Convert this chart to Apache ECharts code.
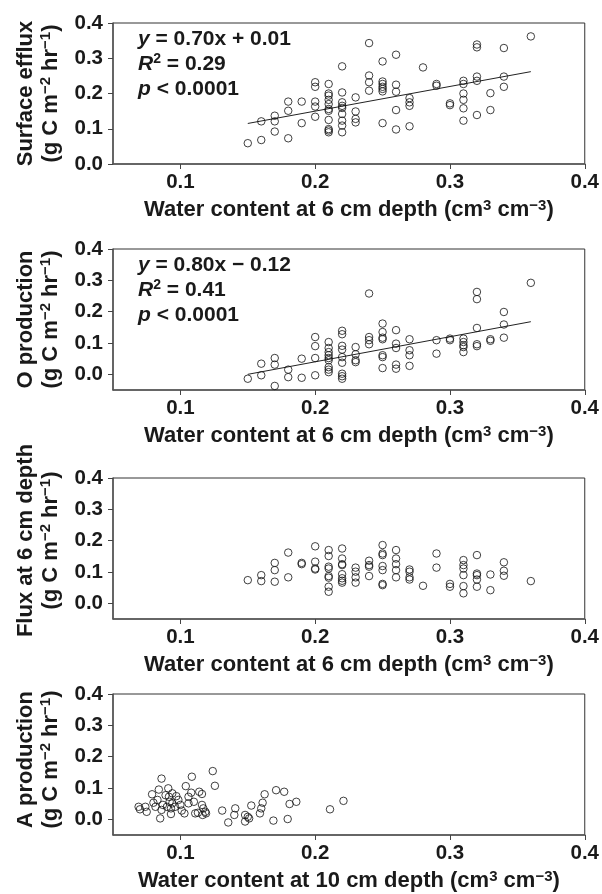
<!DOCTYPE html>
<html><head><meta charset="utf-8">
<script src="https://cdn.jsdelivr.net/npm/echarts@6/dist/echarts.min.js"></script>
<style>html,body{margin:0;padding:0;background:#fff}#c{width:602px;height:894px}</style>
</head><body><div id="c"></div>
<script>
// ---------- DATA ----------
const xTickValues = [0.1, 0.2, 0.3, 0.4];
const yTickValues = [0.0, 0.1, 0.2, 0.3, 0.4];

// Panel 1: surface efflux vs water content at 6 cm
const surfaceEfflux = [
 [0.15,0.059],
 [0.16,0.121],[0.16,0.068],
 [0.17,0.137],[0.17,0.121],[0.17,0.092],
 [0.18,0.177],[0.18,0.151],[0.18,0.073],
 [0.19,0.177],[0.19,0.116],
 [0.20,0.232],[0.20,0.219],[0.20,0.177],[0.20,0.163],[0.20,0.134],
 [0.21,0.227],[0.21,0.200],[0.21,0.194],[0.21,0.182],[0.21,0.170],[0.21,0.156],[0.21,0.151],[0.21,0.125],[0.21,0.099],[0.21,0.095],[0.21,0.090],
 [0.22,0.277],[0.22,0.203],[0.22,0.175],[0.22,0.165],[0.22,0.159],[0.22,0.142],[0.22,0.123],[0.22,0.109],[0.22,0.090],
 [0.23,0.189],[0.23,0.149],[0.23,0.128],[0.23,0.118],
 [0.24,0.343],[0.24,0.251],[0.24,0.232],[0.24,0.208],
 [0.25,0.291],[0.25,0.234],[0.25,0.227],[0.25,0.219],[0.25,0.213],[0.25,0.206],[0.25,0.116],
 [0.26,0.310],[0.26,0.225],[0.26,0.205],[0.26,0.153],[0.26,0.098],
 [0.27,0.187],[0.27,0.175],[0.27,0.165],[0.27,0.107],
 [0.28,0.274],
 [0.29,0.227],[0.29,0.222],
 [0.30,0.172],[0.30,0.167],
 [0.31,0.236],[0.31,0.227],[0.31,0.200],[0.31,0.182],[0.31,0.158],[0.31,0.123],
 [0.32,0.339],[0.32,0.331],[0.32,0.248],[0.32,0.236],[0.32,0.139],
 [0.33,0.201],[0.33,0.153],
 [0.34,0.329],[0.34,0.248],[0.34,0.219],
 [0.36,0.362]
];
const surfaceFitLine = [[0.15,0.115],[0.36,0.262]];

// Panel 2: O production vs water content at 6 cm
const oProduction = [
 [0.15,-0.014],
 [0.16,0.034],[0.16,-0.003],
 [0.17,0.052],[0.17,0.031],[0.17,-0.037],
 [0.18,0.015],[0.18,-0.009],
 [0.19,0.050],[0.19,-0.011],
 [0.20,0.119],[0.20,0.090],[0.20,0.052],[0.20,-0.003],
 [0.21,0.103],[0.21,0.084],[0.21,0.071],[0.21,0.061],[0.21,0.052],[0.21,0.045],[0.21,0.023],[0.21,0.015],[0.21,0.007],
 [0.22,0.139],[0.22,0.128],[0.22,0.091],[0.22,0.079],[0.22,0.055],[0.22,0.037],[0.22,0.002],[0.22,-0.006],[0.22,-0.014],
 [0.23,0.087],[0.23,0.064],[0.23,0.045],[0.23,0.039],
 [0.24,0.258],[0.24,0.119],[0.24,0.109],[0.24,0.096],
 [0.25,0.162],[0.25,0.135],[0.25,0.117],[0.25,0.112],[0.25,0.061],[0.25,0.055],[0.25,0.020],
 [0.26,0.141],[0.26,0.098],[0.26,0.084],[0.26,0.031],[0.26,0.018],
 [0.27,0.112],[0.27,0.077],[0.27,0.061],[0.27,0.027],
 [0.29,0.109],[0.29,0.066],
 [0.30,0.114],[0.30,0.109],
 [0.31,0.114],[0.31,0.103],[0.31,0.093],[0.31,0.087],[0.31,0.071],
 [0.32,0.263],[0.32,0.240],[0.32,0.148],[0.32,0.096],[0.32,0.090],
 [0.33,0.112],[0.33,0.107],
 [0.34,0.199],[0.34,0.159],[0.34,0.117],
 [0.36,0.292]
];
const oProductionFitLine = [[0.15,0.000],[0.36,0.168]];

// Panel 3: flux at 6 cm depth vs water content at 6 cm
const flux6cm = [
 [0.15,0.074],
 [0.16,0.090],[0.16,0.071],
 [0.17,0.129],[0.17,0.106],[0.17,0.069],
 [0.18,0.162],[0.18,0.083],
 [0.19,0.129],[0.19,0.125],
 [0.20,0.182],[0.20,0.133],[0.20,0.111],[0.20,0.108],
 [0.21,0.170],[0.21,0.151],[0.21,0.117],[0.21,0.111],[0.21,0.087],[0.21,0.082],[0.21,0.053],[0.21,0.037],
 [0.22,0.175],[0.22,0.143],[0.22,0.125],[0.22,0.122],[0.22,0.093],[0.22,0.080],[0.22,0.072],[0.22,0.066],
 [0.23,0.114],[0.23,0.101],[0.23,0.083],[0.23,0.066],
 [0.24,0.136],[0.24,0.122],[0.24,0.117],[0.24,0.087],
 [0.25,0.186],[0.25,0.159],[0.25,0.154],[0.25,0.119],[0.25,0.106],[0.25,0.062],[0.25,0.058],
 [0.26,0.170],[0.26,0.143],[0.26,0.125],[0.26,0.106],[0.26,0.083],
 [0.27,0.108],[0.27,0.101],[0.27,0.083],[0.27,0.076],
 [0.28,0.056],
 [0.29,0.159],[0.29,0.114],
 [0.30,0.062],[0.30,0.053],
 [0.31,0.138],[0.31,0.122],[0.31,0.111],[0.31,0.090],[0.31,0.055],[0.31,0.032],
 [0.32,0.154],[0.32,0.095],[0.32,0.090],[0.32,0.076],[0.32,0.053],
 [0.33,0.092],[0.33,0.042],
 [0.34,0.131],[0.34,0.104],[0.34,0.088],
 [0.36,0.071]
];

// Panel 4: A production vs water content at 10 cm
const aProduction = [
 [0.069,0.040],[0.070,0.032],[0.075,0.024],[0.074,0.040],[0.079,0.080],[0.080,0.053],
 [0.0815,0.040],[0.083,0.062],[0.084,0.095],[0.086,0.130],[0.085,0.003],[0.086,0.030],
 [0.087,0.046],[0.089,0.077],[0.090,0.040],[0.091,0.099],[0.0915,0.072],[0.092,0.056],
 [0.093,0.035],[0.093,0.017],[0.094,0.051],[0.094,0.083],[0.096,0.040],[0.097,0.074],
 [0.0985,0.062],[0.100,0.046],[0.101,0.028],[0.103,0.019],[0.104,0.106],[0.106,0.072],
 [0.106,0.051],[0.108,0.085],[0.1085,0.136],[0.110,0.056],[0.111,0.019],[0.113,0.021],
 [0.114,0.088],[0.116,0.081],[0.116,0.046],[0.1165,0.014],[0.117,0.035],[0.1185,0.024],
 [0.119,0.019],[0.124,0.154],[0.1256,0.107],[0.131,0.028],[0.1355,-0.010],[0.1407,0.035],
 [0.140,0.014],[0.148,0.014],[0.148,-0.007],[0.150,0.008],[0.151,0.003],[0.1526,0.044],
 [0.159,0.019],[0.160,0.035],[0.161,0.053],[0.1625,0.080],[0.171,0.093],[0.169,-0.004],
 [0.177,0.088],[0.1796,0.001],[0.181,0.049],[0.186,0.056],[0.211,0.032],[0.221,0.059]
];

const yAxisTitles = ['Surface efflux', 'O production', 'Flux at 6 cm depth', 'A production'];
const xAxisTitles = ['Water content at 6 cm depth', 'Water content at 6 cm depth', 'Water content at 6 cm depth', 'Water content at 10 cm depth'];
const equationLines = [
 ['0.70x + 0.01', '0.29', '0.0001'],
 ['0.80x \u2212 0.12', '0.41', '0.0001']
];

// ---------- CHART ----------
const FONT = '"Liberation Sans", Arial, Helvetica, sans-serif';
const TXT = '#1a1a1a';
function makeRich(base) {
  return {
    s: { fontSize: Math.round(base * 0.68), fontWeight: 'bold', fontFamily: FONT, color: TXT, lineHeight: Math.round(base * 0.8), verticalAlign: 'top' },
    i: { fontSize: base, fontWeight: 'bold', fontStyle: 'italic', fontFamily: FONT, color: TXT }
  };
}
const unitLine = '(g C m{s|\u22122} hr{s|\u22121})';

const tops = [23, 249, 478, 694];
const heights = [141, 141, 141, 142];
const yMins = [0, -0.05, -0.05, -0.05];
const yNameShift = [0, 0, 16, 10];
const panelData = [surfaceEfflux, oProduction, flux6cm, aProduction];
const fitLines = [surfaceFitLine, oProductionFitLine, null, null];

const grid = [], xAxis = [], yAxis = [], series = [], title = [];
for (let k = 0; k < 4; k++) {
  grid.push({ left: 113, right: 16, top: tops[k], height: heights[k], show: true,
    borderColor: '#333', borderWidth: 1, backgroundColor: 'transparent', containLabel: false });
  xAxis.push({ gridIndex: k, type: 'value', min: 0.05, max: 0.4,
    axisLine: { show: true, onZero: false, lineStyle: { color: '#555', width: 1.5 } },
    axisTick: { show: true, inside: false, length: 5, customValues: xTickValues, lineStyle: { color: '#444', width: 1 } },
    axisLabel: { customValues: xTickValues, margin: 8, formatter: v => v.toFixed(1),
      fontSize: 20.5, fontWeight: 'bold', fontFamily: FONT, color: TXT },
    splitLine: { show: false },
    name: xAxisTitles[k] + ' (cm{s|3} cm{s|\u22123})', nameLocation: 'middle', nameGap: 34,
    nameTextStyle: { fontSize: 22, fontWeight: 'bold', fontFamily: FONT, color: TXT, lineHeight: 24, rich: makeRich(22) }
  });
  yAxis.push({ gridIndex: k, type: 'value', min: yMins[k], max: 0.4,
    axisLine: { show: true, onZero: false, lineStyle: { color: '#555', width: 1.5 } },
    axisTick: { show: true, inside: false, length: 5, customValues: yTickValues, lineStyle: { color: '#444', width: 1 } },
    axisLabel: { customValues: yTickValues, margin: 10, formatter: v => v.toFixed(1),
      fontSize: 20.5, fontWeight: 'bold', fontFamily: FONT, color: TXT },
    splitLine: { show: false },
    name: yAxisTitles[k] + '\n' + unitLine, nameLocation: 'middle', nameGap: 50, nameRotate: 90,
    nameTextStyle: { fontSize: 22, fontWeight: 'bold', fontFamily: FONT, color: TXT, lineHeight: 25,
      padding: [0, 0, 0, yNameShift[k]], rich: makeRich(22) }
  });
  series.push({ type: 'scatter', xAxisIndex: k, yAxisIndex: k, data: panelData[k],
    symbol: 'circle', symbolSize: 7.5,
    itemStyle: { color: 'rgba(0,0,0,0)', borderColor: '#111', borderWidth: 1 } });
  if (fitLines[k]) {
    series.push({ type: 'line', xAxisIndex: k, yAxisIndex: k, data: fitLines[k], symbol: 'none',
      lineStyle: { color: '#222', width: 1 }, z: 1 });
  }
}
for (let k = 0; k < equationLines.length; k++) {
  const e = equationLines[k];
  title.push({ left: 138, top: tops[k] + 4, padding: 0,
    text: '{i|y} = ' + e[0] + '\n{i|R}{s|2} = ' + e[1] + '\n{i|p} < ' + e[2],
    textStyle: { fontSize: 21, fontWeight: 'bold', fontFamily: FONT, color: TXT, lineHeight: 25, rich: makeRich(21) } });
}

const chart = echarts.init(document.getElementById('c'), null, { renderer: 'canvas' });
chart.setOption({ animation: false, backgroundColor: '#fff', title, grid, xAxis, yAxis, series });
</script></body></html>
